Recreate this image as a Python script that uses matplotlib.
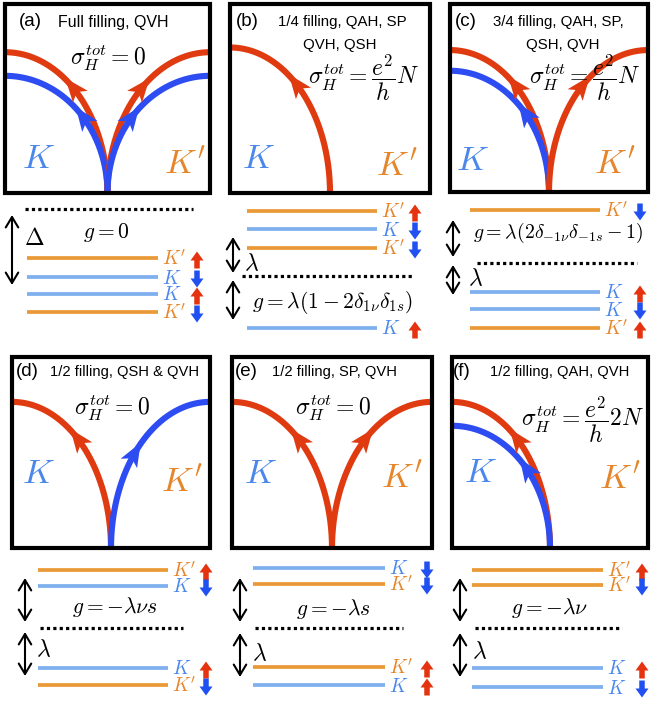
import matplotlib
matplotlib.use('Agg')
import matplotlib.pyplot as plt
import numpy as np
from matplotlib.patches import Rectangle, Polygon, FancyArrow, FancyArrowPatch

plt.rcParams['mathtext.fontset'] = 'cm'

# ---------------- data ----------------
panel_tags = ['(a)', '(b)', '(c)', '(d)', '(e)', '(f)']
panel_titles = [['Full filling, QVH'],
                ['1/4 filling, QAH, SP', 'QVH, QSH'],
                ['3/4 filling, QAH, SP,', 'QSH, QVH'],
                ['1/2 filling, QSH & QVH'],
                ['1/2 filling, SP, QVH'],
                ['1/2 filling, QAH, QVH']]
hall_texts = [r'$\sigma_H^{tot}=0$',
              r'$\sigma_H^{tot}=\dfrac{e^2}{h}N$',
              r'$\sigma_H^{tot}=\dfrac{e^2}{h}N$',
              r'$\sigma_H^{tot}=0$',
              r'$\sigma_H^{tot}=0$',
              r'$\sigma_H^{tot}=\dfrac{e^2}{h}2N$']
# edge states: (side, spin colour, height of curve end as fraction of box from top)
edge_sides = [['L', 'L', 'R', 'R'], ['L'], ['L', 'L', 'R'], ['L', 'R'], ['L', 'R'], ['L', 'L']]
edge_spins = [['up', 'down', 'up', 'down'], ['up'], ['up', 'down', 'up'], ['up', 'down'], ['up', 'up'], ['up', 'down']]
edge_drop = [[0.255, 0.38, 0.255, 0.38], [0.23], [0.245, 0.355, 0.245], [0.235, 0.235], [0.235, 0.235], [0.235, 0.36]]

# Landau-level schematics (top to bottom), energies relative to the Fermi level
level_valleys = [["K'", 'K', 'K', "K'"],
                 ["K'", 'K', "K'", 'K'],
                 ["K'", 'K', 'K', "K'"],
                 ["K'", 'K', 'K', "K'"],
                 ['K', "K'", "K'", 'K'],
                 ["K'", "K'", 'K', 'K']]
level_spins = [['up', 'down', 'up', 'down'],
               ['up', 'down', 'down', 'up'],
               ['down', 'up', 'down', 'up'],
               ['up', 'down', 'up', 'down'],
               ['down', 'down', 'up', 'up'],
               ['up', 'down', 'up', 'down']]
level_energy = [[-49, -68, -85, -103],
                [65, 47, 28, -52],
                [53, -29, -46, -65],
                [58, 42, -40, -57],
                [60, 44, -39, -57],
                [58, 43, -40, -59]]
g_texts = [r'$g=0$',
           r'$g=\lambda(1-2\delta_{1\nu}\delta_{1s})$',
           r'$g=\lambda(2\delta_{-1\nu}\delta_{-1s}-1)$',
           r'$g=-\lambda\nu s$',
           r'$g=-\lambda s$',
           r'$g=-\lambda\nu$']
gap_symbols = [r'$\Delta$', r'$\lambda$', r'$\lambda$', r'$\lambda$', r'$\lambda$', r'$\lambda$']

# ---------------- layout (pixels) ----------------
boxes = [(5, 4, 210, 193), (230, 4, 430, 193), (450, 4, 648, 192),
         (12, 357, 210, 548), (232, 357, 432, 548), (452, 357, 648, 548)]
tag_xy = [(30, 22), (247, 22), (466, 22), (27, 372), (246, 372), (462, 372)]
title_xy = [[(113, 22)], [(342, 22), (340, 45)], [(558, 22), (563, 45)],
            [(125, 372)], [(335, 372)], [(560, 372)]]
title_size = [11.5, 10.8, 10.8, 10.6, 10.6, 10.6]
hall_xy = [(108, 58), (364, 78), (585, 78), (112, 408), (333, 408), (583, 420)]
bigK_xy = [(38, 158), (258, 158), (472, 160), (38, 473), (260, 473), (480, 472)]
bigKp_xy = [(185, 163), (397, 165), (615, 163), (182, 481), (402, 477), (620, 478)]
fermi_y = [209, 276, 263, 628, 628, 628]
fermi_x = [(25, 193), (242, 412), (477, 637), (40, 183), (255, 403), (475, 622)]
level_x = [(27, 158), (247, 377), (470, 600), (38, 168), (253, 385), (472, 603)]
spin_x = [197, 415, 640, 206, 427, 642]
darrows = [[(12, 215, 285)], [(233, 237, 273), (233, 280, 320)], [(453, 220, 257), (453, 265, 295)],
           [(25, 578, 622), (25, 632, 676)], [(240, 578, 622), (240, 633, 677)], [(460, 578, 622), (460, 633, 677)]]
gap_xy = [(34, 238), (252, 263), (476, 278), (44, 649), (260, 653), (480, 651)]
g_xy = [(106, 232, 'center'), (332, 302, 'center'), (473, 233, 'left'),
        (115, 607, 'center'), (333, 609, 'center'), (550, 608, 'center')]
g_size = [15.5, 15.5, 14.3, 15.5, 15.5, 15.5]

C_RED = '#E03A10'
C_BLUE = '#2D4CF2'
C_LVL = {'K': '#7FB0EE', "K'": '#E99A36'}
C_LBL = {'K': '#4C88EA', "K'": '#E6862C'}
C_SPIN = {'up': '#E5330F', 'down': '#2150F0'}
C_CURVE = {'up': C_RED, 'down': C_BLUE}
T_ARROW = {'up': 48, 'down': 40}

W, H = 652, 704
fig = plt.figure(figsize=(W / 100, H / 100), dpi=100)
ax = fig.add_axes([0, 0, 1, 1])
ax.set_xlim(0, W)
ax.set_ylim(H, 0)
ax.axis('off')


def edge_curve(box, side, spin, drop):
    x0, y0, x1, y1 = box
    cx = (x0 + x1) / 2
    ytop = y0 + drop * (y1 - y0)
    b = y1 - ytop
    t = np.linspace(0, np.pi / 2, 300)
    if side == 'L':
        a = cx - x0
        xs = x0 + a * np.cos(t)
        sgn = -1
    else:
        a = x1 - cx
        xs = x1 - a * np.cos(t)
        sgn = 1
    ys = y1 - b * np.sin(t)
    clip = Rectangle((x0, y0), x1 - x0, y1 - y0, transform=ax.transData)
    ln, = ax.plot(xs, ys, color=C_CURVE[spin], lw=4.4, solid_capstyle='butt', zorder=3)
    ln.set_clip_path(clip)
    ta = np.deg2rad(T_ARROW[spin])
    px = (x0 + a * np.cos(ta)) if side == 'L' else (x1 - a * np.cos(ta))
    py = y1 - b * np.sin(ta)
    dx = sgn * a * np.sin(ta)
    dy = -b * np.cos(ta)
    n = np.hypot(dx, dy)
    u = np.array([dx, dy]) / n
    nv = np.array([-u[1], u[0]])
    p = np.array([px, py])
    L, w = 24, 19
    tip = p + u * L * 0.55
    back = p - u * L * 0.45
    notch = p - u * L * 0.2
    poly = Polygon([tip, back + nv * w / 2, notch, back - nv * w / 2], closed=True,
                   color=C_CURVE[spin], zorder=4, lw=0)
    ax.add_patch(poly)


def spin_arrow(x, y, spin):
    h = 17
    if spin == 'up':
        y0, dy = y + 2 + h / 2, -h
    else:
        y0, dy = y + 2 - h / 2, h
    ax.add_patch(FancyArrow(x, y0, 0, dy, width=5.5, head_width=13, head_length=9,
                            length_includes_head=True, color=C_SPIN[spin], lw=0, zorder=5))


for i in range(6):
    x0, y0, x1, y1 = boxes[i]
    ax.add_patch(Rectangle((x0, y0), x1 - x0, y1 - y0, fill=False, ec='black', lw=3.0, zorder=6))
    ax.text(*tag_xy[i], panel_tags[i], fontsize=13.5, family='Liberation Sans', ha='center', va='center', zorder=7)
    for line, (tx, ty) in zip(panel_titles[i], title_xy[i]):
        ax.text(tx, ty, line, fontsize=title_size[i], family='Liberation Sans', ha='center', va='center', zorder=7)
    for s, sp, d in zip(edge_sides[i], edge_spins[i], edge_drop[i]):
        edge_curve(boxes[i], s, sp, d)
    ax.text(*hall_xy[i], hall_texts[i], fontsize=17, ha='center', va='center', zorder=7)
    ax.text(*bigK_xy[i], r'$K$', fontsize=25, color=C_LBL['K'], ha='center', va='center', zorder=7)
    ax.text(*bigKp_xy[i], r"$K'$", fontsize=25, color=C_LBL["K'"], ha='center', va='center', zorder=7)

    # level schematic
    fy = fermi_y[i]
    ax.plot(fermi_x[i], [fy, fy], color='black', lw=2.3, linestyle=(0, (1, 1)), solid_capstyle='butt')
    lx0, lx1 = level_x[i]
    for v, sp, e in zip(level_valleys[i], level_spins[i], level_energy[i]):
        y = fy - e
        ax.plot([lx0, lx1], [y, y], color=C_LVL[v], lw=2.7, solid_capstyle='butt')
        ax.text(lx1 + 4, y + 1, r"$%s$" % v, fontsize=14, color=C_LBL[v], ha='left', va='center')
        spin_arrow(spin_x[i], y, sp)
    for (dxp, ya, yb) in darrows[i]:
        ax.add_patch(FancyArrowPatch((dxp, ya), (dxp, yb), arrowstyle='<->,head_length=5,head_width=3',
                                     color='black', lw=1.5, mutation_scale=1.5, shrinkA=0, shrinkB=0))
    ax.text(*gap_xy[i], gap_symbols[i], fontsize=17, ha='center', va='center')
    gx, gy, gha = g_xy[i]
    ax.text(gx, gy, g_texts[i], fontsize=g_size[i], ha=gha, va='center')

fig.savefig('out.png', dpi=100)
